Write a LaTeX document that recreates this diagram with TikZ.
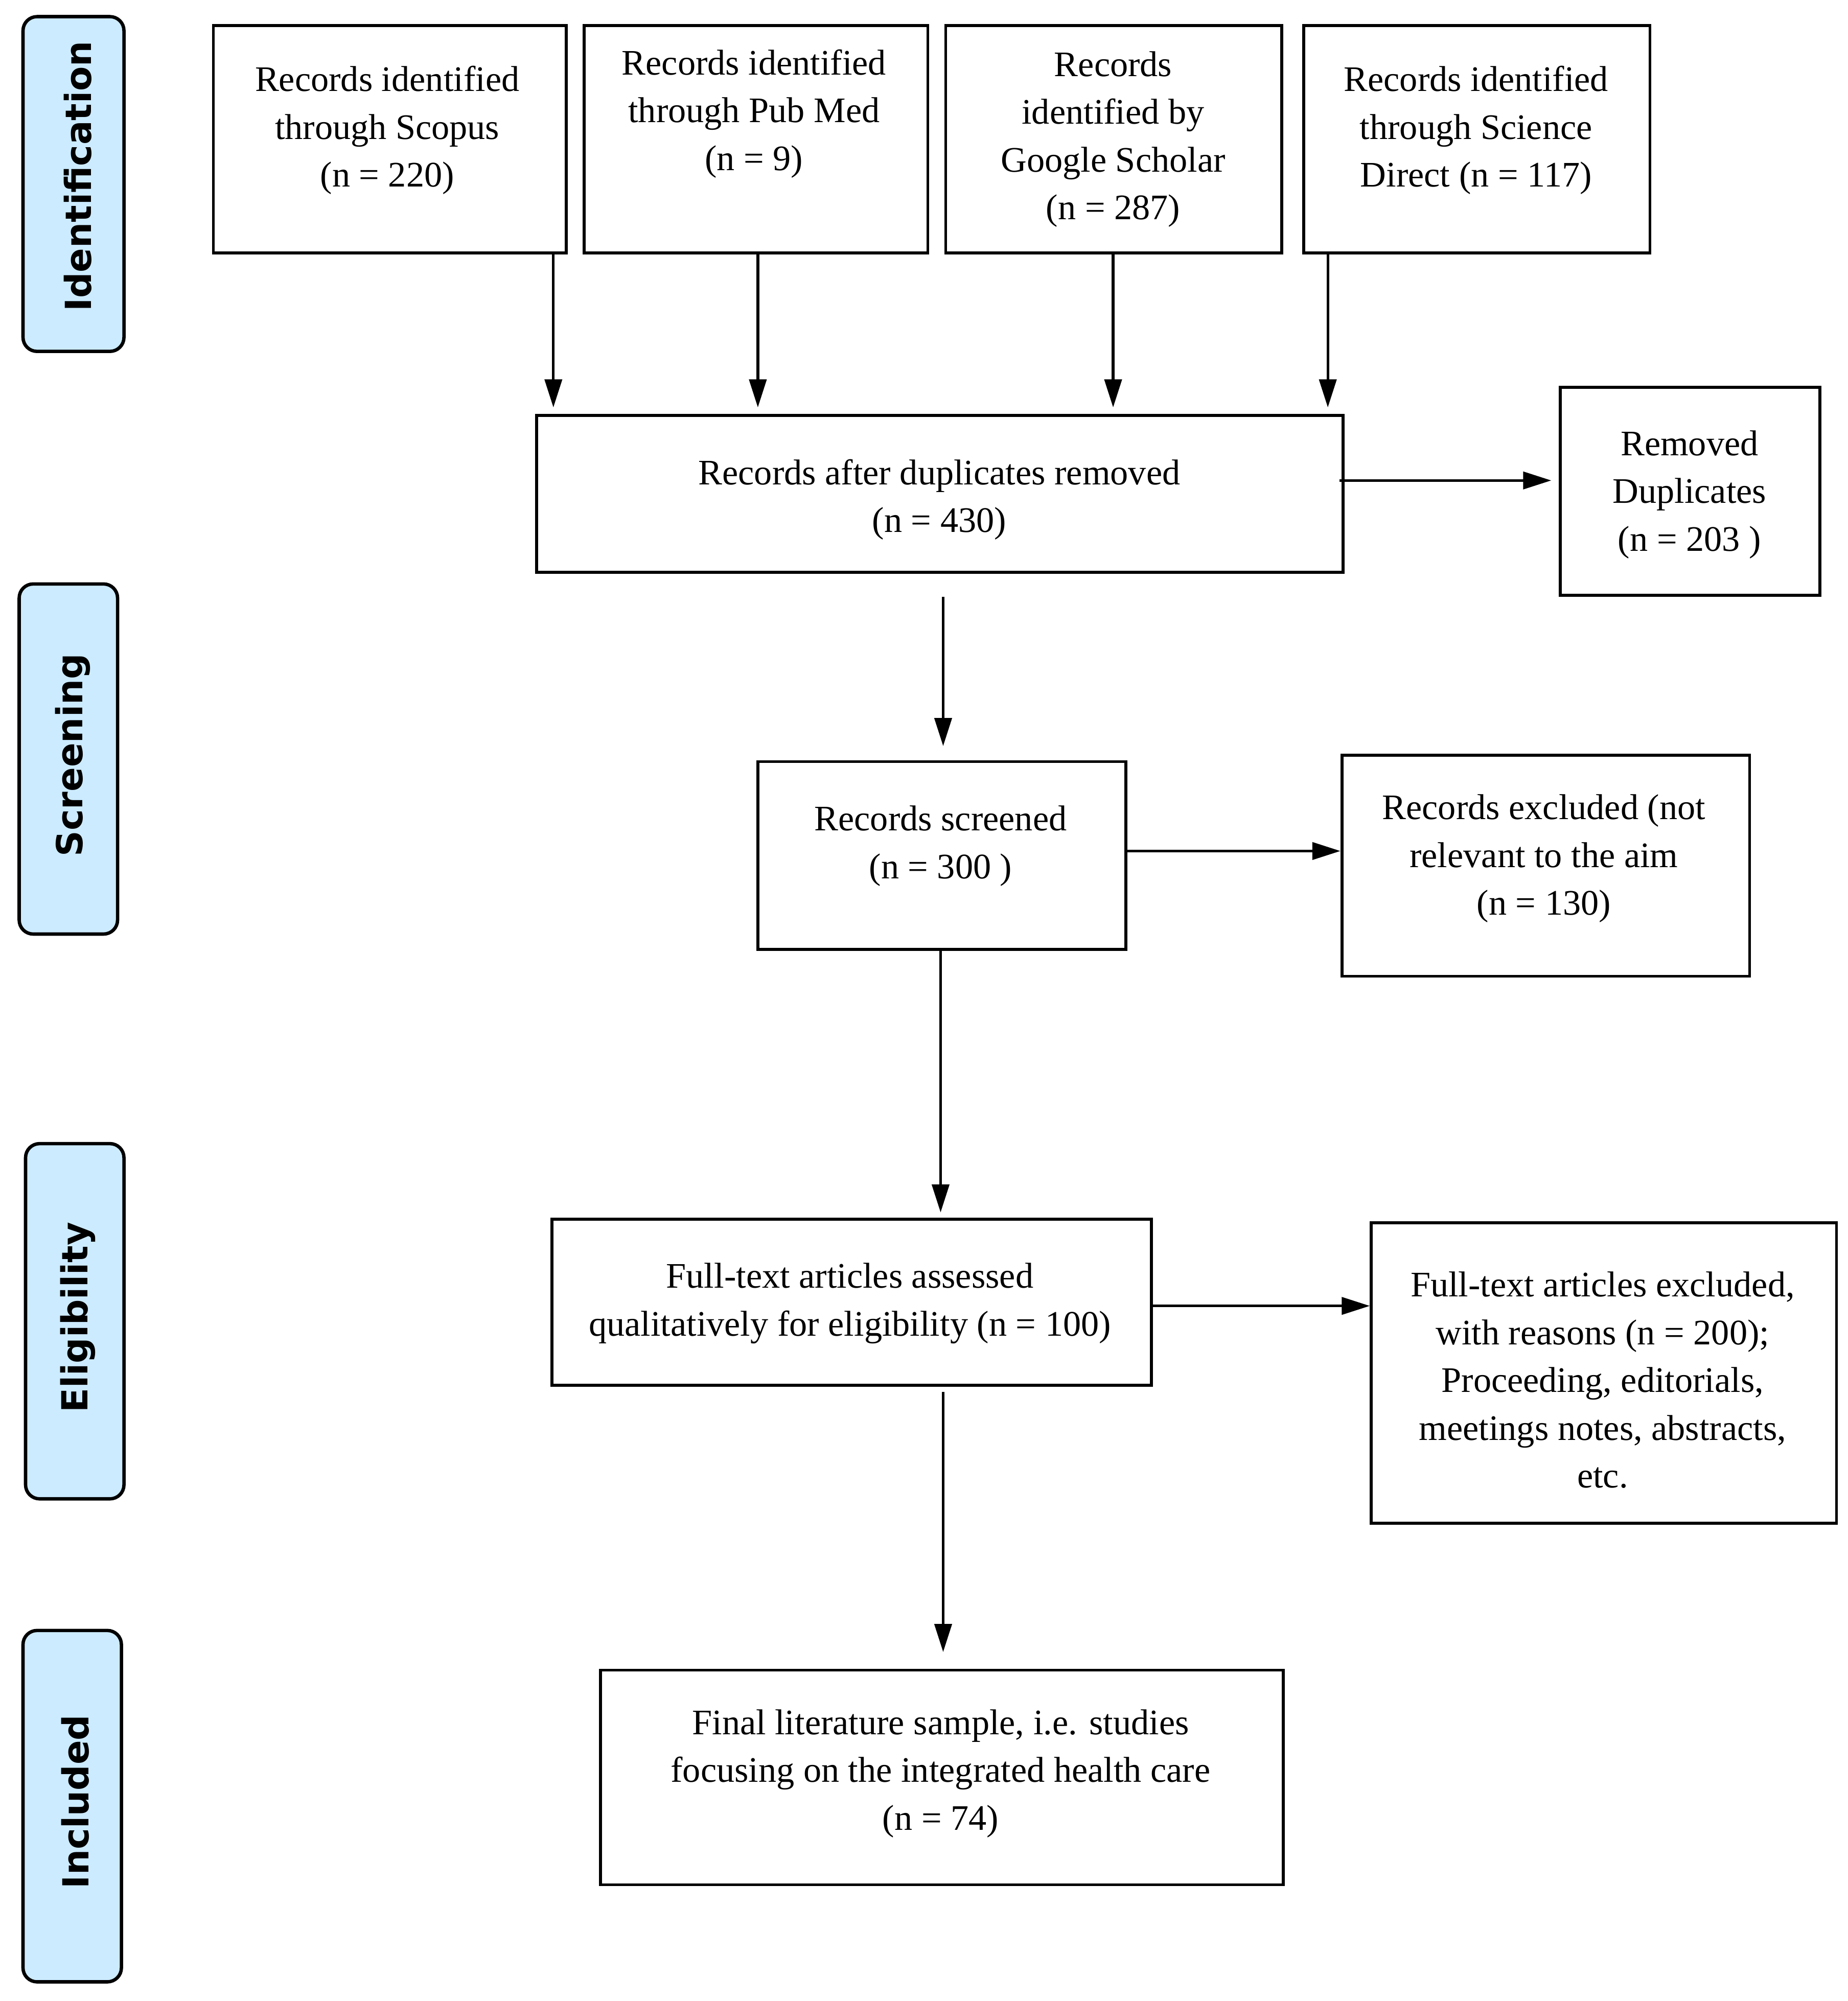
\documentclass[tikz,border=0pt]{standalone}
\usepackage{fontspec}
\setmainfont{Liberation Serif}
\newfontfamily\stagefont{DejaVu Sans}
\usetikzlibrary{fit,arrows.meta}
\definecolor{stageblue}{RGB}{204,235,255}
\begin{document}
\begin{tikzpicture}[x=0.02cm,y=-0.02cm,
  box/.style={draw,line width=1.3pt,inner sep=0pt},
  stagebox/.style={draw,line width=1.5pt,fill=stageblue,rounded corners=0.22cm,inner sep=0pt},
  txt/.style={align=center,font=\fontsize{16}{21.3}\selectfont,inner sep=0pt},
  stagetxt/.style={rotate=90,font=\stagefont\bfseries\fontsize{16}{19}\selectfont,inner sep=0pt},
  arr/.style={line width=1.2pt,-{Triangle[length=0.44cm,width=0.27cm]}}]
\useasboundingbox (0,0) rectangle (1446,1566);

% stage labels
\node[stagebox,fit={(18,13) (97,275)}] (sid) {};
\node[stagetxt] (sidt) at (61,138) {Identification};
\node[stagebox,fit={(15,457) (92,731)}] (sscr) {};
\node[stagetxt] (sscrt) at (57,591) {Screening};
\node[stagebox,fit={(20,895) (97,1173)}] (selig) {};
\node[stagetxt] (seligt) at (61,1031) {Eligibility};
\node[stagebox,fit={(18,1276) (95,1551)}] (sinc) {};
\node[stagetxt] (sinct) at (59,1410) {Included};

% boxes
\node[box,fit={(167,20) (443,198)}] (scopus) {};
\node[txt] (scopust) at (303,102) {Records identified\\through Scopus\\(n = 220)};
\node[box,fit={(457,20) (726,198)}] (pubmed) {};
\node[txt] (pubmedt) at (590,89) {Records identified\\through Pub Med\\(n = 9)};
\node[box,fit={(740,20) (1003,198)}] (google) {};
\node[txt] (googlet) at (871,109) {Records\\identified by\\Google Scholar\\(n = 287)};
\node[box,fit={(1020,20) (1291,198)}] (sdirect) {};
\node[txt] (sdirectt) at (1155,102) {Records identified\\through Science\\Direct (n = 117)};

\node[box,fit={(420,325) (1051,448)}] (dup) {};
\node[txt] (dupt) at (735,391) {Records after duplicates removed\\(n = 430)};
\node[box,fit={(1221,303) (1424,466)}] (removed) {};
\node[txt] (removedt) at (1322,387) {Removed\\Duplicates\\(n = 203 )};

\node[box,fit={(593,596) (881,743)}] (screened) {};
\node[txt] (screenedt) at (736,662) {Records screened\\(n = 300 )};
\node[box,fit={(1050,591) (1369,764)}] (excluded) {};
\node[txt] (excludedt) at (1208,672) {Records excluded (not\\relevant to the aim\\(n = 130)};

\node[box,fit={(432,954) (901,1084)}] (fulltext) {};
\node[txt] (fulltextt) at (665,1020) {Full-text articles assessed\\qualitatively for eligibility (n = 100)};
\node[box,fit={(1073,957) (1437,1192)}] (ftexcl) {};
\node[txt] (ftexclt) at (1254,1080) {Full-text articles excluded,\\with reasons (n = 200);\\Proceeding, editorials,\\meetings notes, abstracts,\\etc.};

\node[box,fit={(470,1307) (1004,1475)}] (final) {};
\node[txt] (finalt) at (736,1388) {Final literature sample, i.e. studies\\focusing on the integrated health care\\(n = 74)};

% connector guides
\coordinate (a1) at (433,0);
\coordinate (a2) at (593,0);
\coordinate (a3) at (871,0);
\coordinate (a4) at (1039,0);
\coordinate (a5) at (0,376);
\coordinate (a6) at (738,0);
\coordinate (a7) at (0,666);
\coordinate (a8) at (736,0);
\coordinate (a9) at (0,1022);
\coordinate (a10) at (738,0);

\draw[arr,shorten >=0.1cm] (scopus.south -| a1) -- (dup.north -| a1);
\draw[arr,shorten >=0.1cm] (pubmed.south -| a2) -- (dup.north -| a2);
\draw[arr,shorten >=0.1cm] (google.south -| a3) -- (dup.north -| a3);
\draw[arr,shorten >=0.1cm] (sdirect.south -| a4) -- (dup.north -| a4);
\draw[arr,shorten <=-0.08cm,shorten >=0.12cm] (dup.east |- a5) -- (removed.west |- a5);
\draw[arr,shorten <=0.36cm,shorten >=0.22cm] (dup.south -| a6) -- (screened.north -| a6);
\draw[arr] (screened.east |- a7) -- (excluded.west |- a7);
\draw[arr,shorten >=0.08cm] (screened.south -| a8) -- (fulltext.north -| a8);
\draw[arr] (fulltext.east |- a9) -- (ftexcl.west |- a9);
\draw[arr,shorten <=0.08cm,shorten >=0.26cm] (fulltext.south -| a10) -- (final.north -| a10);
\end{tikzpicture}
\end{document}
